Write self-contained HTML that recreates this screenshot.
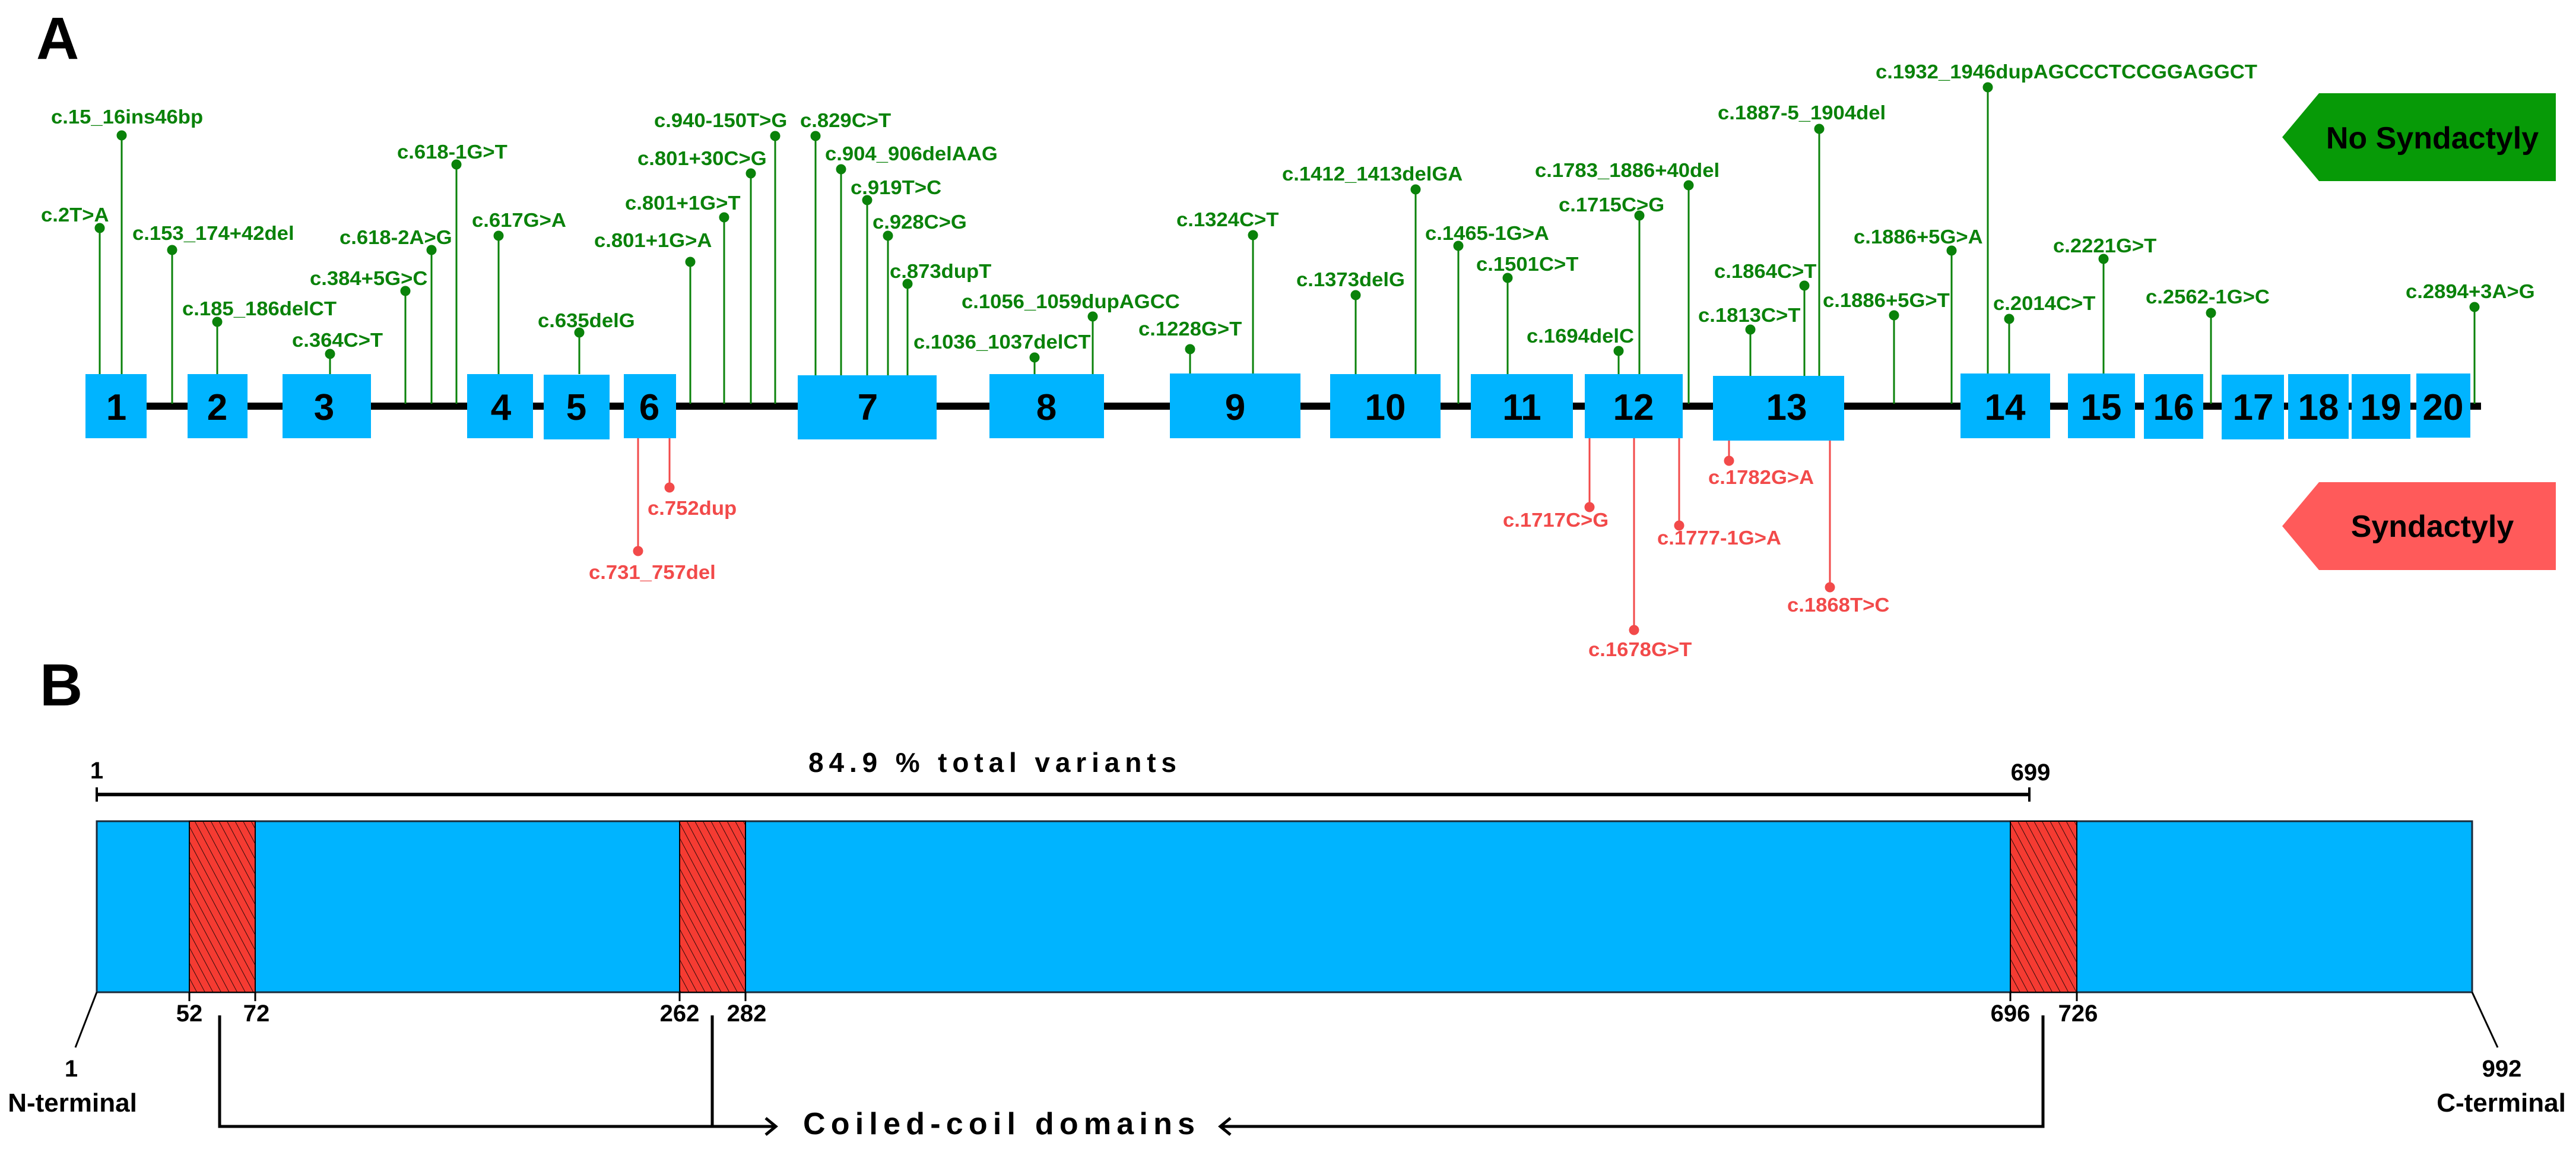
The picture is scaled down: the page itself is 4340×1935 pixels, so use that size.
<!DOCTYPE html>
<html><head><meta charset="utf-8"><style>
html,body{margin:0;padding:0;background:#fff}
svg{display:block}
text{font-family:"Liberation Sans",Arial,sans-serif;font-weight:bold}
.g{fill:#0a820a;font-size:33px}
.r{fill:#f24a4a;font-size:33px}
.s{transform-box:fill-box;transform-origin:0 0;transform:scaleX(1.05)}
.n{font-size:62px;fill:#000;text-anchor:middle}
.k{font-size:40px;fill:#000;text-anchor:middle}
</style></head><body>
<svg width="4340" height="1935" viewBox="0 0 4340 1935" xmlns="http://www.w3.org/2000/svg">
<defs>
<pattern id="h" patternUnits="userSpaceOnUse" width="12" height="12" patternTransform="rotate(-28)">
<rect width="12" height="12" fill="#f53b32"/><line x1="0" y1="0" x2="0" y2="12" stroke="#000" stroke-width="1.6"/>
</pattern>
</defs>
<text x="61" y="99" font-size="100" fill="#000">A</text>
<text x="67" y="1188" font-size="100" fill="#000">B</text>

<rect x="144" y="678" width="4036" height="12" fill="#000"/>

<g stroke="#0a820a" stroke-width="3" fill="#0a820a">
<line x1="168" y1="384" x2="168" y2="630"/><circle cx="168" cy="384" r="7"/>
<line x1="205" y1="228" x2="205" y2="630"/><circle cx="205" cy="228" r="7"/>
<line x1="290" y1="421" x2="290" y2="680"/><circle cx="290" cy="421" r="7"/>
<line x1="366" y1="542" x2="366" y2="630"/><circle cx="366" cy="542" r="7"/>
<line x1="556" y1="596" x2="556" y2="630"/><circle cx="556" cy="596" r="7"/>
<line x1="683" y1="490" x2="683" y2="680"/><circle cx="683" cy="490" r="7"/>
<line x1="727" y1="421" x2="727" y2="680"/><circle cx="727" cy="421" r="7"/>
<line x1="769" y1="277" x2="769" y2="680"/><circle cx="769" cy="277" r="7"/>
<line x1="840" y1="397" x2="840" y2="630"/><circle cx="840" cy="397" r="7"/>
<line x1="976" y1="560" x2="976" y2="630"/><circle cx="976" cy="560" r="7"/>
<line x1="1163" y1="441" x2="1163" y2="680"/><circle cx="1163" cy="441" r="7"/>
<line x1="1220" y1="366" x2="1220" y2="680"/><circle cx="1220" cy="366" r="7"/>
<line x1="1265" y1="292" x2="1265" y2="680"/><circle cx="1265" cy="292" r="7"/>
<line x1="1306" y1="229" x2="1306" y2="680"/><circle cx="1306" cy="229" r="7"/>
<line x1="1374" y1="229" x2="1374" y2="632"/><circle cx="1374" cy="229" r="7"/>
<line x1="1417" y1="285" x2="1417" y2="632"/><circle cx="1417" cy="285" r="7"/>
<line x1="1461" y1="337" x2="1461" y2="632"/><circle cx="1461" cy="337" r="7"/>
<line x1="1496" y1="397" x2="1496" y2="632"/><circle cx="1496" cy="397" r="7"/>
<line x1="1529" y1="478" x2="1529" y2="632"/><circle cx="1529" cy="478" r="7"/>
<line x1="1743" y1="602" x2="1743" y2="630"/><circle cx="1743" cy="602" r="7"/>
<line x1="1841" y1="533" x2="1841" y2="630"/><circle cx="1841" cy="533" r="7"/>
<line x1="2005" y1="588" x2="2005" y2="630"/><circle cx="2005" cy="588" r="7"/>
<line x1="2111" y1="396" x2="2111" y2="630"/><circle cx="2111" cy="396" r="7"/>
<line x1="2284" y1="497" x2="2284" y2="630"/><circle cx="2284" cy="497" r="7"/>
<line x1="2385" y1="319" x2="2385" y2="630"/><circle cx="2385" cy="319" r="7"/>
<line x1="2457" y1="414" x2="2457" y2="680"/><circle cx="2457" cy="414" r="7"/>
<line x1="2540" y1="468" x2="2540" y2="630"/><circle cx="2540" cy="468" r="7"/>
<line x1="2727" y1="591" x2="2727" y2="630"/><circle cx="2727" cy="591" r="7"/>
<line x1="2762" y1="363" x2="2762" y2="630"/><circle cx="2762" cy="363" r="7"/>
<line x1="2845" y1="312" x2="2845" y2="680"/><circle cx="2845" cy="312" r="7"/>
<line x1="2949" y1="555" x2="2949" y2="633"/><circle cx="2949" cy="555" r="7"/>
<line x1="3040" y1="481" x2="3040" y2="633"/><circle cx="3040" cy="481" r="7"/>
<line x1="3065" y1="217" x2="3065" y2="633"/><circle cx="3065" cy="217" r="7"/>
<line x1="3191" y1="531" x2="3191" y2="680"/><circle cx="3191" cy="531" r="7"/>
<line x1="3288" y1="422" x2="3288" y2="680"/><circle cx="3288" cy="422" r="7"/>
<line x1="3349" y1="147" x2="3349" y2="630"/><circle cx="3349" cy="147" r="7"/>
<line x1="3385" y1="537" x2="3385" y2="630"/><circle cx="3385" cy="537" r="7"/>
<line x1="3544" y1="436" x2="3544" y2="630"/><circle cx="3544" cy="436" r="7"/>
<line x1="3725" y1="527" x2="3725" y2="680"/><circle cx="3725" cy="527" r="7"/>
<line x1="4169" y1="517" x2="4169" y2="680"/><circle cx="4169" cy="517" r="7"/>
</g>

<g stroke="#f24a4a" stroke-width="3" fill="#f24a4a">
<line x1="1075" y1="738" x2="1075" y2="928"/><circle cx="1075" cy="928" r="7"/>
<line x1="1128" y1="738" x2="1128" y2="821"/><circle cx="1128" cy="821" r="7"/>
<line x1="2678" y1="738" x2="2678" y2="854"/><circle cx="2678" cy="854" r="7"/>
<line x1="2753" y1="738" x2="2753" y2="1061"/><circle cx="2753" cy="1061" r="7"/>
<line x1="2829" y1="738" x2="2829" y2="885"/><circle cx="2829" cy="885" r="7"/>
<line x1="2913" y1="742" x2="2913" y2="776"/><circle cx="2913" cy="776" r="7"/>
<line x1="3083" y1="742" x2="3083" y2="989"/><circle cx="3083" cy="989" r="7"/>
</g>

<g fill="#00b4ff">
<rect x="144" y="630" width="103" height="108"/>
<rect x="316" y="630" width="101" height="108"/>
<rect x="476" y="630" width="149" height="108"/>
<rect x="787" y="630" width="111" height="108"/>
<rect x="916" y="631" width="111" height="109"/>
<rect x="1051" y="630" width="88" height="108"/>
<rect x="1344" y="632" width="234" height="108"/>
<rect x="1667" y="630" width="193" height="108"/>
<rect x="1971" y="629" width="220" height="109"/>
<rect x="2241" y="630" width="186" height="108"/>
<rect x="2478" y="630" width="172" height="108"/>
<rect x="2670" y="630" width="165" height="108"/>
<rect x="2886" y="633" width="221" height="109"/>
<rect x="3303" y="629" width="151" height="109"/>
<rect x="3484" y="629" width="113" height="109"/>
<rect x="3612" y="630" width="100" height="109"/>
<rect x="3743" y="631" width="105" height="109"/>
<rect x="3855" y="630" width="102" height="109"/>
<rect x="3962" y="630" width="99" height="109"/>
<rect x="4071" y="629" width="91" height="108"/>
</g>
<g class="n">
<text x="196" y="707">1</text><text x="366" y="707">2</text><text x="546" y="707">3</text>
<text x="844" y="707">4</text><text x="971" y="707">5</text><text x="1094" y="707">6</text>
<text x="1462" y="707">7</text><text x="1763" y="707">8</text><text x="2081" y="707">9</text>
<text x="2334" y="707">10</text><text x="2564" y="707">11</text><text x="2752" y="707">12</text>
<text x="3010" y="707">13</text><text x="3378" y="707">14</text><text x="3540" y="707">15</text>
<text x="3662" y="707">16</text><text x="3796" y="707">17</text><text x="3906" y="707">18</text>
<text x="4011" y="707">19</text><text x="4116" y="707">20</text>
</g>

<g class="g">
<text class="s" x="69" y="373">c.2T&gt;A</text>
<text class="s" x="86" y="208">c.15_16ins46bp</text>
<text class="s" x="223" y="404">c.153_174+42del</text>
<text class="s" x="307" y="531">c.185_186delCT</text>
<text class="s" x="492" y="584">c.364C&gt;T</text>
<text class="s" x="522" y="480">c.384+5G&gt;C</text>
<text class="s" x="572" y="411">c.618-2A&gt;G</text>
<text class="s" x="669" y="267">c.618-1G&gt;T</text>
<text class="s" x="795" y="382">c.617G&gt;A</text>
<text class="s" x="906" y="551">c.635delG</text>
<text class="s" x="1001" y="416">c.801+1G&gt;A</text>
<text class="s" x="1053" y="353">c.801+1G&gt;T</text>
<text class="s" x="1074" y="278">c.801+30C&gt;G</text>
<text class="s" x="1102" y="214">c.940-150T&gt;G</text>
<text class="s" x="1348" y="214">c.829C&gt;T</text>
<text class="s" x="1390" y="270">c.904_906delAAG</text>
<text class="s" x="1433" y="327">c.919T&gt;C</text>
<text class="s" x="1470" y="385">c.928C&gt;G</text>
<text class="s" x="1499" y="468">c.873dupT</text>
<text class="s" x="1539" y="587">c.1036_1037delCT</text>
<text class="s" x="1620" y="519">c.1056_1059dupAGCC</text>
<text class="s" x="1918" y="565">c.1228G&gt;T</text>
<text class="s" x="1982" y="381">c.1324C&gt;T</text>
<text class="s" x="2184" y="482">c.1373delG</text>
<text class="s" x="2160" y="304">c.1412_1413delGA</text>
<text class="s" x="2401" y="404">c.1465-1G&gt;A</text>
<text class="s" x="2487" y="456">c.1501C&gt;T</text>
<text class="s" x="2572" y="577">c.1694delC</text>
<text class="s" x="2626" y="356">c.1715C&gt;G</text>
<text class="s" x="2586" y="298">c.1783_1886+40del</text>
<text class="s" x="2861" y="542">c.1813C&gt;T</text>
<text class="s" x="2888" y="468">c.1864C&gt;T</text>
<text class="s" x="2894" y="201">c.1887-5_1904del</text>
<text class="s" x="3071" y="517">c.1886+5G&gt;T</text>
<text class="s" x="3123" y="410">c.1886+5G&gt;A</text>
<text class="s" x="3160" y="132">c.1932_1946dupAGCCCTCCGGAGGCT</text>
<text class="s" x="3358" y="522">c.2014C&gt;T</text>
<text class="s" x="3459" y="425">c.2221G&gt;T</text>
<text class="s" x="3615" y="511">c.2562-1G&gt;C</text>
<text class="s" x="4053" y="502">c.2894+3A&gt;G</text>
</g>
<g class="r">
<text class="s" x="992" y="975">c.731_757del</text>
<text class="s" x="1091" y="867">c.752dup</text>
<text class="s" x="2532" y="887">c.1717C&gt;G</text>
<text class="s" x="2676" y="1105">c.1678G&gt;T</text>
<text class="s" x="2792" y="917">c.1777-1G&gt;A</text>
<text class="s" x="2878" y="815">c.1782G&gt;A</text>
<text class="s" x="3011" y="1030">c.1868T&gt;C</text>
</g>

<polygon points="3907,157 4306,157 4306,305 3907,305 3845,231" fill="#079a07"/>
<text x="4098" y="250" font-size="52" text-anchor="middle" fill="#000">No Syndactyly</text>
<polygon points="3907,812 4306,812 4306,960 3907,960 3845,886" fill="#ff5a5a"/>
<text x="4098" y="904" font-size="52" text-anchor="middle" fill="#000">Syndactyly</text>

<text class="k" x="163" y="1311">1</text>
<text class="k" x="3421" y="1314">699</text>
<g stroke="#000" stroke-width="6">
<line x1="163" y1="1338" x2="3419" y2="1338"/>
<line x1="163" y1="1326" x2="163" y2="1350" stroke-width="4"/>
<line x1="3419" y1="1326" x2="3419" y2="1350" stroke-width="4"/>
</g>
<text x="1362" y="1300" font-size="46" textLength="620" lengthAdjust="spacing" fill="#000">84.9 % total variants</text>

<rect x="163" y="1383" width="4002" height="288" fill="#00b4ff" stroke="#1a2a3a" stroke-width="3"/>
<rect x="319" y="1383" width="111" height="288" fill="url(#h)" stroke="#000" stroke-width="2"/>
<rect x="1145" y="1383" width="111" height="288" fill="url(#h)" stroke="#000" stroke-width="2"/>
<rect x="3387" y="1383" width="112" height="288" fill="url(#h)" stroke="#000" stroke-width="2"/>
<g stroke="#000" stroke-width="3">
<line x1="319" y1="1671" x2="319" y2="1686"/><line x1="430" y1="1671" x2="430" y2="1686"/>
<line x1="1145" y1="1671" x2="1145" y2="1686"/><line x1="1256" y1="1671" x2="1256" y2="1686"/>
<line x1="3387" y1="1671" x2="3387" y2="1686"/><line x1="3499" y1="1671" x2="3499" y2="1686"/>
<line x1="163" y1="1671" x2="127" y2="1764"/>
<line x1="4165" y1="1671" x2="4208" y2="1764"/>
</g>
<text class="k" x="319" y="1720">52</text><text class="k" x="432" y="1720">72</text>
<text class="k" x="1145" y="1720">262</text><text class="k" x="1258" y="1720">282</text>
<text class="k" x="3387" y="1720">696</text><text class="k" x="3501" y="1720">726</text>
<text class="k" x="120" y="1813">1</text>
<text class="k" x="4215" y="1813">992</text>
<text x="122" y="1872" font-size="44" text-anchor="middle" fill="#000">N-terminal</text>
<text x="4214" y="1872" font-size="44" text-anchor="middle" fill="#000">C-terminal</text>

<g stroke="#000" stroke-width="5" fill="none">
<polyline points="370,1710 370,1897 1306,1897"/>
<line x1="1200" y1="1710" x2="1200" y2="1897"/>
<polyline points="1290,1883 1307,1897 1290,1911"/>
<polyline points="3442,1710 3442,1897 2056,1897"/>
<polyline points="2073,1883 2056,1897 2073,1911"/>
</g>
<text x="1353" y="1910" font-size="52" textLength="660" lengthAdjust="spacing" fill="#000">Coiled-coil domains</text>
</svg>
</body></html>
